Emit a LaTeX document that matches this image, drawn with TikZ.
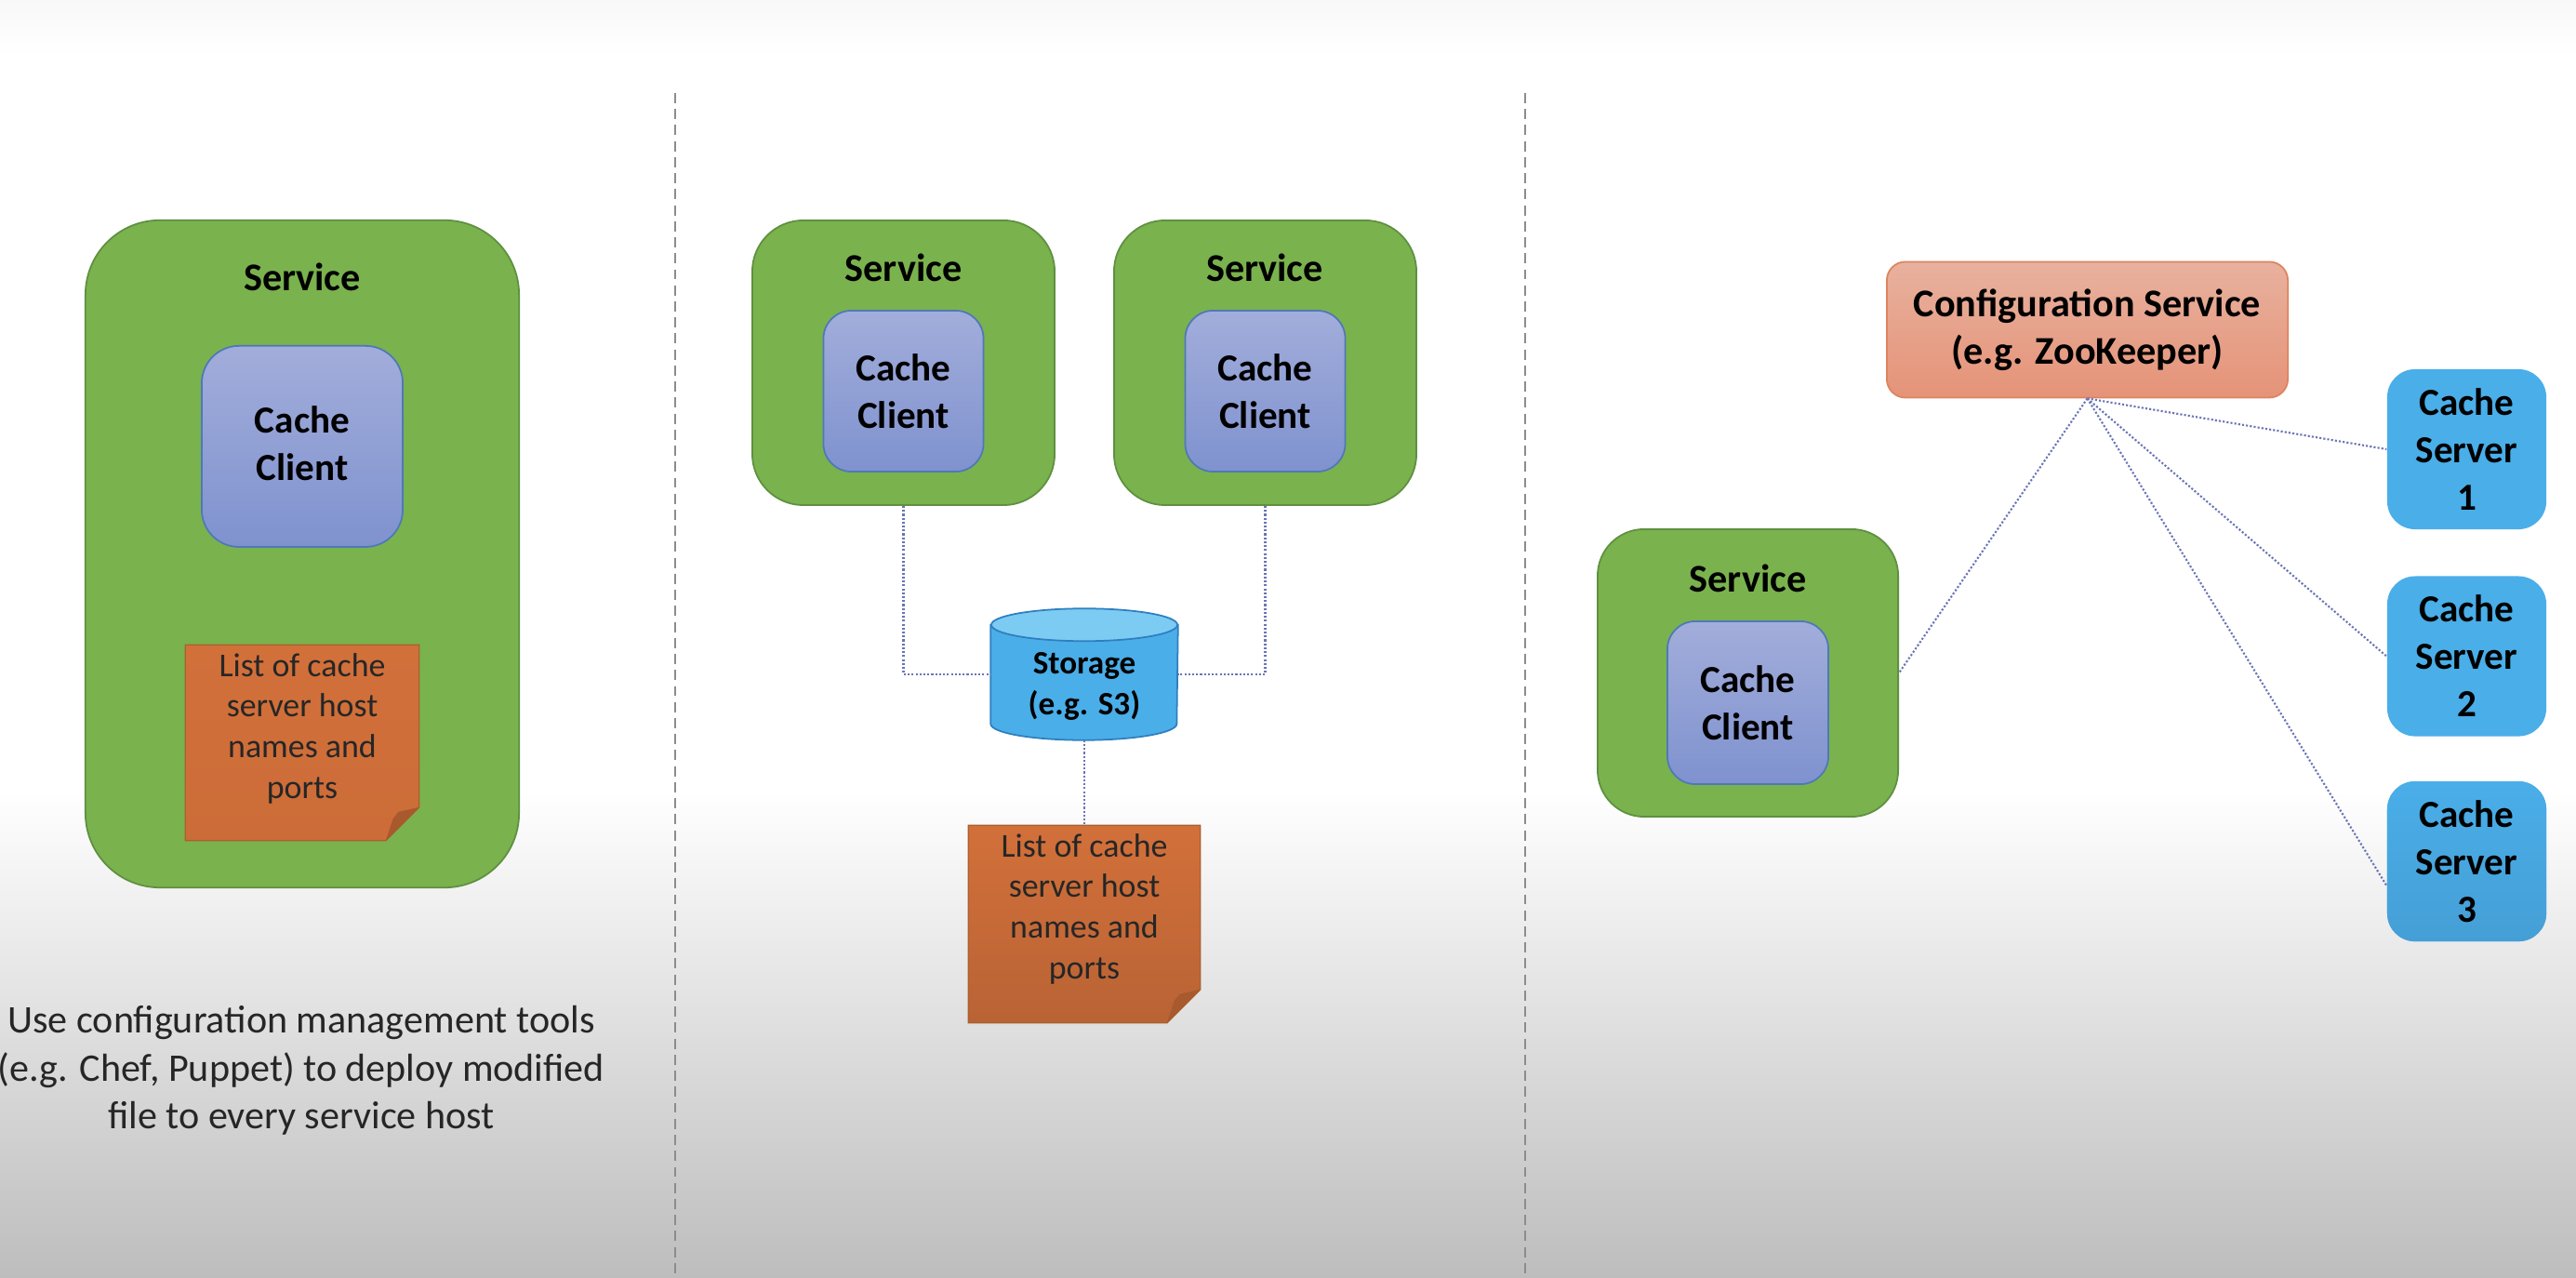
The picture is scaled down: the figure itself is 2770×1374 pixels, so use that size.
\documentclass[tikz,border=0pt]{standalone}
\usepackage{fontspec}
\setmainfont{Carlito}
\usetikzlibrary{calc,positioning}
\definecolor{green}{HTML}{7AB24E}
\definecolor{greenline}{HTML}{5F9040}
\definecolor{blue}{HTML}{4AAEE8}
\definecolor{bluelow}{HTML}{459FD6}
\definecolor{bluetop}{HTML}{7CCBF2}
\definecolor{blueline}{HTML}{2F7FC0}
\definecolor{clientline}{HTML}{4F79B8}
\definecolor{clienttop}{HTML}{A2ADDA}
\definecolor{clientlow}{HTML}{7F92CF}
\definecolor{salmontop}{HTML}{E8B19E}
\definecolor{salmonlow}{HTML}{E59378}
\definecolor{salmonline}{HTML}{DD8460}
\definecolor{noteup}{HTML}{D2703A}
\definecolor{notemid}{HTML}{CC6C38}
\definecolor{notelow}{HTML}{B96335}
\definecolor{noteline}{HTML}{A9602F}
\definecolor{fold}{HTML}{A85A2E}
\definecolor{link}{HTML}{6A75B5}
\definecolor{rule}{HTML}{8C8C8C}
\definecolor{fade}{HTML}{BDBDBD}
\definecolor{topfade}{HTML}{F8F8F8}

\begin{document}
\begin{tikzpicture}[x=0.01cm,y=-0.01cm,
  svcbox/.style={draw=greenline,fill=green,line width=0.5pt},
  clientbox/.style={draw=clientline,top color=clienttop,bottom color=clientlow,line width=0.5pt,align=center,font=\fontsize{11.7}{14.5}\selectfont\bfseries,text=black},
  svclabel/.style={font=\fontsize{12}{14.5}\selectfont\bfseries,inner sep=0pt},
  serverbox/.style={fill=blue,rounded corners=0.3cm,minimum width=1.71cm,minimum height=1.72cm,align=center,font=\fontsize{11.7}{14.5}\selectfont\bfseries},
  notetext/.style={align=center,inner sep=0pt,text=black!85,font=\fontsize{10.2}{12.4}\selectfont},
  link/.style={color=link,line width=0.6pt,dash pattern=on 0.6pt off 0.6pt}]
\useasboundingbox (0,0) rectangle (2770,1374);
% page background
\fill[top color=topfade,bottom color=white] (0,0) rectangle (2770,60);
\fill[top color=white,bottom color=fade] (0,850) rectangle (2770,1374);
\draw[rule,line width=0.6pt,dash pattern=on 3.1pt off 1.8pt] (726,100)--(726,1374);
\draw[rule,line width=0.6pt,dash pattern=on 3.1pt off 1.8pt] (1640,100)--(1640,1374);

% left panel
\node[svcbox,rounded corners=0.8cm,minimum width=4.66cm,minimum height=7.17cm] (svcA) at (325,595.5) {};
\node[svclabel] (svcAlabel) at (325,298) {Service};
\node[clientbox,rounded corners=0.4cm,minimum width=2.16cm,minimum height=2.16cm,text depth=0.06cm,below=1.35cm of svcA.north] (clientA) {Cache\\Client};
\node[align=center,inner sep=0pt,text=black!85,font=\fontsize{11.97}{14.6}\selectfont] (deploy) at (324,1151) {Use configuration management tools\\(e.g. Chef, Puppet) to deploy modified\\file to every service host};

% middle panel
\node[svcbox,rounded corners=0.55cm,minimum width=3.25cm,minimum height=3.06cm] (svcB) at (971.5,390) {};
\node[svcbox,rounded corners=0.55cm,minimum width=3.25cm,minimum height=3.06cm,right=0.62cm of svcB] (svcC) {};
\node[svclabel] (svcBlabel) at (971.5,288) {Service};
\node[svclabel] (svcClabel) at (1360,288) {Service};
\node[clientbox,rounded corners=0.3cm,minimum width=1.72cm,minimum height=1.73cm,below=0.97cm of svcB.north] (clientB) {Cache\\Client};
\node[clientbox,rounded corners=0.3cm,minimum width=1.72cm,minimum height=1.73cm,below=0.97cm of svcC.north] (clientC) {Cache\\Client};
% storage drum
\node[inner sep=0pt,minimum width=2cm,minimum height=1.4cm] (storage) at (1166,725) {};
\draw[draw=blueline,fill=blue,line width=0.5pt] ($(storage.north west)+(0,17.5)$)--($(storage.south west)+(0,-17.5)$) arc[start angle=180,end angle=360,x radius=1cm,y radius=0.175cm]--($(storage.north east)+(0,17.5)$)--cycle;
\draw[draw=blueline,fill=bluetop,line width=0.5pt] ($(storage.north)+(0,17.5)$) ellipse [x radius=1cm,y radius=0.175cm];
\node[align=center,inner sep=0pt,font=\fontsize{10}{12.5}\selectfont\bfseries] (storagetext) at (1166,738) {Storage\\(e.g. S3)};

% sticky notes
\foreach \nm/\cx/\cy/\w/\h/\low in {noteA/325/798.5/2.50/2.09/notemid,noteB/1166/993.5/2.48/2.11/notelow}{
  \node[inner sep=0pt,minimum width=\w cm,minimum height=\h cm] (\nm) at (\cx,\cy) {};
  \path[draw=noteline,line width=0.4pt,top color=noteup,bottom color=\low] (\nm.north west)--(\nm.north east)--($(\nm.south east)+(0,-36)$)--($(\nm.south east)+(-36,0)$)--(\nm.south west)--cycle;
  \fill[fold] ($(\nm.south east)+(0,-36)$)--($(\nm.south east)+(-22,-31)$)--($(\nm.south east)+(-28,-24)$)--($(\nm.south east)+(-36,0)$)--cycle;
  \node[notetext] (\nm text) at ($(\nm.north)+(0,90)$) {List of cache\\server host\\names and\\ports};
}

% right panel
\node[svcbox,rounded corners=0.5cm,minimum width=3.23cm,minimum height=3.09cm] (svcD) at (1879.5,723.5) {};
\node[svclabel] (svcDlabel) at (1879.5,622) {Service};
\node[clientbox,rounded corners=0.3cm,minimum width=1.73cm,minimum height=1.75cm,below=0.99cm of svcD.north] (clientD) {Cache\\Client};
\node[draw=salmonline,line width=0.5pt,top color=salmontop,bottom color=salmonlow,rounded corners=0.2cm,minimum width=4.31cm,minimum height=1.46cm,align=center,font=\fontsize{12}{14.5}\selectfont\bfseries] (config) at (2244.5,354.5) {Configuration Service\\(e.g. ZooKeeper)};
\node[serverbox] (srvA) at (2652.5,483) {Cache\\Server\\1};
\node[serverbox,below=0.49cm of srvA] (srvB) {Cache\\Server\\2};
\node[serverbox,top color=blue,bottom color=bluelow,below=0.47cm of srvB] (srvC) {Cache\\Server\\3};

% links
\draw[link] (svcB.south) |- (storage.west);
\draw[link] (svcC.south) |- (storage.east);
\draw[link] (storage.south)--(noteB.north);
\draw[link] (config.south)--(svcD.east);
\draw[link] (config.south)--(srvA.west);
\draw[link] (config.south)--(srvB.west);
\draw[link] (config.south)--($(srvC.west)+(0,26)$);
\end{tikzpicture}
\end{document}
